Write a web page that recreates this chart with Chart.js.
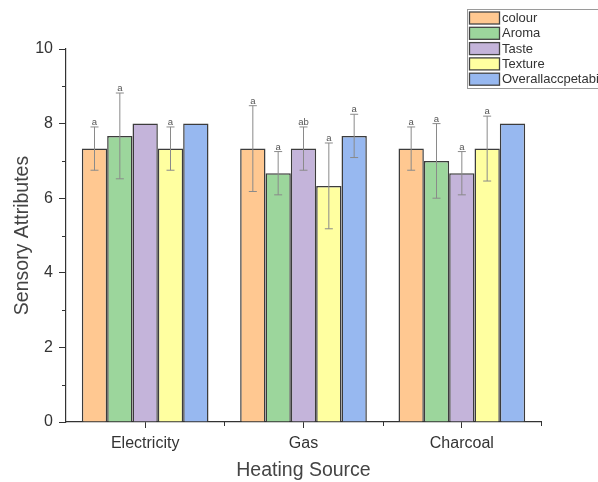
<!DOCTYPE html>
<html>
<head>
<meta charset="utf-8">
<script src="https://cdn.jsdelivr.net/npm/chart.js@4/dist/chart.umd.min.js"></script>
<style>
  html, body { margin: 0; padding: 0; background: #fff; }
  #wrap { width: 598px; height: 482px; overflow: hidden; }
</style>
</head>
<body>
<div id="wrap"><canvas id="myChart" width="598" height="482"></canvas></div>
<script>
// data
const categories = ['Electricity', 'Gas', 'Charcoal'];
const seriesNames = ['colour', 'Aroma', 'Taste', 'Texture', 'Overallaccpetability'];

const colourVals  = [7.33, 7.33, 7.33];
const aromaVals   = [7.67, 6.67, 7.0];
const tasteVals   = [8.0, 7.33, 6.67];
const textureVals = [7.33, 6.33, 7.33];
const overallVals = [8.0, 7.67, 8.0];

// standard deviations (0 = no error bar drawn)
const colourErr  = [0.58, 1.15, 0.58];
const aromaErr   = [1.15, 0.58, 1.0];
const tasteErr   = [0, 0.58, 0.58];
const textureErr = [0.58, 1.15, 0.87];
const overallErr = [0, 0.58, 0];

// significance letters
const colourSig  = ['a', 'a', 'a'];
const aromaSig   = ['a', 'a', 'a'];
const tasteSig   = ['', 'ab', 'a'];
const textureSig = ['a', 'a', 'a'];
const overallSig = ['', 'a', ''];

const yTicks = [0, 2, 4, 6, 8, 10];

const fills = ['#FFC891', '#9CD69C', '#C4B4DA', '#FFFFA0', '#97B8F0'];
const values = [colourVals, aromaVals, tasteVals, textureVals, overallVals];
const errors = [colourErr, aromaErr, tasteErr, textureErr, overallErr];
const letters = [colourSig, aromaSig, tasteSig, textureSig, overallSig];

const FONT = '"Liberation Sans", Arial, sans-serif';

const errorBars = {
  id: 'errorBars',
  afterDatasetsDraw(chart) {
    const ctx = chart.ctx;
    const y = chart.scales.y;
    ctx.save();
    chart.data.datasets.forEach((ds, i) => {
      const meta = chart.getDatasetMeta(i);
      meta.data.forEach((bar, j) => {
        const v = ds.data[j];
        const e = errors[i][j];
        if (!e) return;
        const top = y.getPixelForValue(v + e);
        const bot = y.getPixelForValue(v - e);
        ctx.strokeStyle = '#8a8a8a';
        ctx.lineWidth = 1;
        ctx.beginPath();
        ctx.moveTo(bar.x, top);
        ctx.lineTo(bar.x, bot);
        ctx.moveTo(bar.x - 4, top);
        ctx.lineTo(bar.x + 4, top);
        ctx.moveTo(bar.x - 4, bot);
        ctx.lineTo(bar.x + 4, bot);
        ctx.stroke();
        const txt = letters[i][j];
        if (txt) {
          ctx.fillStyle = '#555';
          ctx.font = '9.5px ' + FONT;
          ctx.textAlign = 'center';
          ctx.textBaseline = 'alphabetic';
          ctx.fillText(txt, bar.x, top - 2);
        }
      });
    });
    ctx.restore();
  }
};

const minorTicks = {
  id: 'minorTicks',
  afterDraw(chart) {
    const ctx = chart.ctx;
    const x = chart.scales.x;
    const y = chart.scales.y;
    const area = chart.chartArea;
    ctx.save();
    ctx.strokeStyle = '#333';
    ctx.lineWidth = 1;
    ctx.beginPath();
    for (let v = 1; v < 10; v += 2) {
      const py = Math.round(y.getPixelForValue(v)) + 0.5;
      ctx.moveTo(area.left - 4, py);
      ctx.lineTo(area.left, py);
    }
    for (let i = 0; i < categories.length; i++) {
      const px = Math.round(x.getPixelForValue(i + 0.5)) + 0.5;
      ctx.moveTo(px, area.bottom);
      ctx.lineTo(px, area.bottom + 4);
    }
    ctx.stroke();
    ctx.restore();
  }
};

const boxLegend = {
  id: 'boxLegend',
  afterDraw(chart) {
    const ctx = chart.ctx;
    ctx.save();
    ctx.fillStyle = '#fff';
    ctx.strokeStyle = '#9a9a9a';
    ctx.lineWidth = 1;
    ctx.fillRect(467.5, 9.5, 140, 79);
    ctx.strokeRect(467.5, 9.5, 140, 79);
    ctx.font = '13px ' + FONT;
    ctx.textAlign = 'left';
    ctx.textBaseline = 'middle';
    chart.data.datasets.forEach((ds, i) => {
      const cy = 18 + i * 15.3;
      ctx.fillStyle = ds.backgroundColor;
      ctx.fillRect(469.5, cy - 6, 30, 12);
      ctx.strokeStyle = '#444';
      ctx.lineWidth = 1.3;
      ctx.strokeRect(469.5, cy - 6, 30, 12);
      ctx.fillStyle = '#333';
      ctx.fillText(ds.label, 502, cy + 0.5);
    });
    ctx.restore();
  }
};

new Chart(document.getElementById('myChart'), {
  type: 'bar',
  data: {
    labels: categories,
    datasets: seriesNames.map((name, i) => ({
      label: name,
      data: values[i],
      backgroundColor: fills[i],
      borderColor: '#3c3c3c',
      borderWidth: 1.5,
      categoryPercentage: 0.8,
      barPercentage: 1.0
    }))
  },
  options: {
    responsive: false,
    animation: false,
    layout: { padding: { top: 49, right: 57, left: 0, bottom: 0 } },
    plugins: {
      legend: { display: false },
      tooltip: { enabled: false }
    },
    scales: {
      x: {
        offset: true,
        grid: { offset: false, drawOnChartArea: false, drawTicks: true, tickLength: 6, tickColor: '#333' },
        border: { display: true, color: '#333', width: 1.2 },
        ticks: { font: { family: FONT, size: 16 }, color: '#333', padding: 6 },
        title: {
          display: true, text: 'Heating Source', color: '#444',
          font: { family: FONT, size: 19.5 }, padding: { top: 0, bottom: 0 }
        },
        afterFit(scale) { scale.height = 60; }
      },
      y: {
        min: 0,
        max: 10,
        afterBuildTicks(scale) { scale.ticks = yTicks.map(v => ({ value: v })); },
        grid: { drawOnChartArea: false, drawTicks: true, tickLength: 7, tickColor: '#333' },
        border: { display: true, color: '#333', width: 1.2 },
        ticks: { font: { family: FONT, size: 16 }, color: '#333', padding: 6 },
        title: {
          display: true, text: 'Sensory Attributes', color: '#444',
          font: { family: FONT, size: 19.5 }, padding: { top: 11, bottom: 0 }
        },
        afterFit(scale) { scale.width = 66; }
      }
    }
  },
  plugins: [errorBars, minorTicks, boxLegend]
});
</script>
</body>
</html>
